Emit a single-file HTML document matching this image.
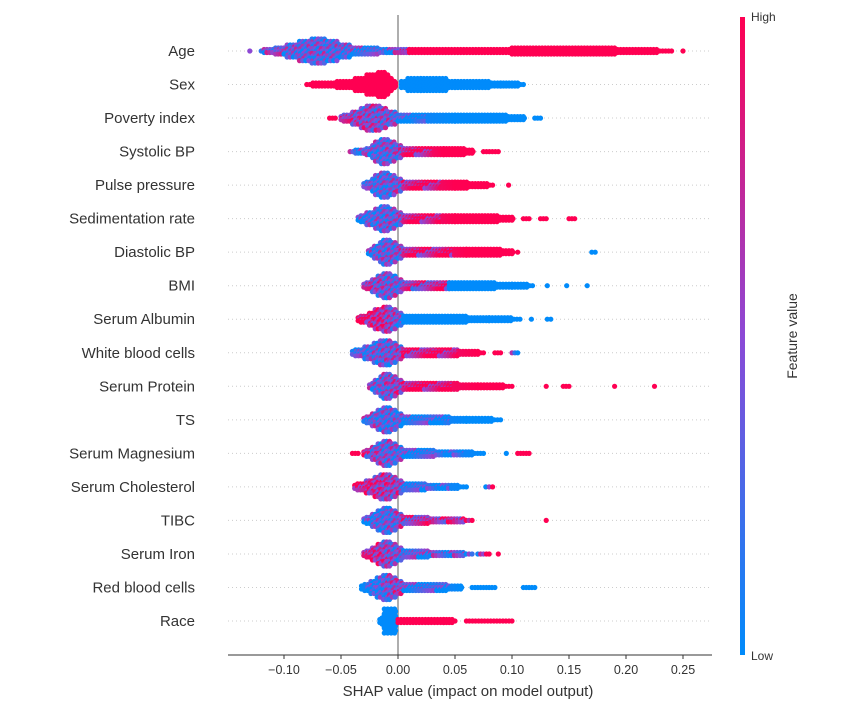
<!DOCTYPE html>
<html><head><meta charset="utf-8"><style>
html,body{margin:0;padding:0;background:#fff;}
svg{display:block;font-family:"Liberation Sans","DejaVu Sans",sans-serif;}
</style></head><body>
<svg id="chart" width="847" height="713" viewBox="0 0 847 713" xmlns="http://www.w3.org/2000/svg">
<defs><linearGradient id="cbar" x1="0" y1="1" x2="0" y2="0">
<stop offset="0" stop-color="#008bfb"/><stop offset="0.5" stop-color="#8c49d6"/><stop offset="1" stop-color="#ff0052"/></linearGradient></defs>
<g id="grid"></g>
<line x1="398" y1="15" x2="398" y2="655" stroke="#999" stroke-width="1.6"/>
<g id="dots"></g>
<g id="ylabels"></g>
<g id="xaxis"></g>
<text x="468" y="696" text-anchor="middle" font-size="15" fill="#333">SHAP value (impact on model output)</text>
<rect x="740" y="17" width="5" height="638" fill="url(#cbar)"/>
<text x="751" y="21" font-size="12" fill="#333">High</text>
<text x="751" y="660" font-size="12" fill="#333">Low</text>
<text transform="translate(797,336) rotate(-90)" text-anchor="middle" font-size="14" fill="#333">Feature value</text>
</svg>
<script>
const features = ["Age","Sex","Poverty index","Systolic BP","Pulse pressure","Sedimentation rate","Diastolic BP","BMI","Serum Albumin","White blood cells","Serum Protein","TS","Serum Magnesium","Serum Cholesterol","TIBC","Serum Iron","Red blood cells","Race"];
const xTicks = [-0.10,-0.05,0.00,0.05,0.10,0.15,0.20,0.25];
const xTickLabels = ["\u22120.10","\u22120.05","0.00","0.05","0.10","0.15","0.20","0.25"];
// segments: [shapFrom, shapTo, countFrom, countTo, featureValueFrom, featureValueTo]
const segAge = [[-0.13,-0.13,1,1,.4,.4],[-0.12,-0.10,1,5,.4,.4],[-0.10,-0.07,5,11,.35,.35],[-0.07,-0.04,11,5,.35,.3],[-0.04,-0.01,5,3,.3,.2],[-0.01,0.01,3,3,.2,.8],[0.01,0.10,3,3,1,1],[0.10,0.19,5,5,1,1],[0.19,0.24,3,1,1,1],[0.25,0.25,1,1,1,1]];
const segSex = [[-0.08,-0.04,1,5,1,1],[-0.04,-0.012,5,11,1,1],[-0.012,-0.003,11,5,1,1],[0.003,0.02,5,7,0,0],[0.02,0.05,7,5,0,0],[0.05,0.09,5,3,0,0],[0.09,0.11,3,1,0,0]];
const segPoverty = [[-0.06,-0.055,1,1,1,1],[-0.05,-0.022,3,11,.6,.5],[-0.022,0,11,5,.5,.4],[0,0.05,5,5,.1,0],[0.05,0.11,5,3,0,0],[0.12,0.125,1,1,0,0]];
const segSystolic = [[-0.042,-0.03,1,3,.3,.3],[-0.03,-0.012,3,11,.3,.35],[-0.012,0.005,11,5,.35,.5],[0.005,0.04,5,5,.8,1],[0.04,0.065,5,3,1,1],[0.075,0.088,1,1,1,1]];
const segPulse = [[-0.03,-0.012,3,11,.3,.3],[-0.012,0.005,11,5,.3,.5],[0.005,0.05,5,5,.8,1],[0.05,0.083,5,1,1,1],[0.097,0.097,1,1,1,1]];
const segSed = [[-0.035,-0.012,3,11,.2,.35],[-0.012,0.005,11,5,.35,.5],[0.005,0.05,5,5,.8,1],[0.05,0.10,5,3,1,1],[0.11,0.115,1,1,1,1],[0.125,0.13,1,1,1,1],[0.15,0.155,1,1,1,1]];
const segDia = [[-0.026,-0.01,3,11,.3,.35],[-0.01,0.005,11,5,.35,.5],[0.005,0.06,5,5,.75,1],[0.06,0.10,5,3,1,1],[0.105,0.105,1,1,1,1],[0.17,0.173,1,1,0,0]];
const segBmi = [[-0.03,-0.01,3,11,.6,.4],[-0.01,0.005,11,5,.4,.4],[0.005,0.045,5,5,.5,.8],[0.045,0.10,5,3,0,0],[0.10,0.118,3,1,0,0],[0.131,0.131,1,1,0,0],[0.148,0.148,1,1,0,0],[0.166,0.166,1,1,0,0]];
const segAlbumin = [[-0.035,-0.01,3,11,.9,.7],[-0.01,0.005,11,5,.6,.3],[0.005,0.08,5,3,0,0],[0.08,0.107,3,1,0,0],[0.117,0.117,1,1,0,0],[0.131,0.134,1,1,0,0]];
const segWbc = [[-0.04,-0.01,3,11,.2,.4],[-0.01,0.005,11,5,.4,.5],[0.005,0.07,5,3,.8,1],[0.07,0.075,1,1,1,1],[0.085,0.09,1,1,1,1],[0.1,0.105,1,1,0.3,0]];
const segProtein = [[-0.025,-0.01,3,11,.3,.45],[-0.01,0.005,11,5,.45,.6],[0.005,0.07,5,3,.85,1],[0.07,0.10,3,1,1,1],[0.13,0.13,1,1,1,1],[0.145,0.15,1,1,1,1],[0.19,0.19,1,1,1,1],[0.225,0.225,1,1,1,1]];
const segTs = [[-0.03,-0.01,3,11,.4,.3],[-0.01,0.005,11,5,.3,.3],[0.005,0.06,5,3,.2,0],[0.06,0.09,3,1,0,0]];
const segMg = [[-0.04,-0.035,1,1,1,1],[-0.03,-0.01,3,11,.6,.4],[-0.01,0.005,11,5,.4,.3],[0.005,0.075,5,1,.2,0],[0.095,0.095,1,1,0,0],[0.105,0.115,1,1,1,1]];
const segChol = [[-0.038,-0.01,3,11,.9,.6],[-0.01,0.005,11,5,.6,.5],[0.005,0.06,5,1,.2,0],[0.077,0.083,1,1,0,1]];
const segTibc = [[-0.03,-0.01,3,11,.2,.3],[-0.01,0.005,11,5,.3,.5],[0.005,0.065,5,1,.6,.8],[0.13,0.13,1,1,1,1]];
const segIron = [[-0.03,-0.01,3,11,.9,.5],[-0.01,0.005,11,5,.5,.4],[0.005,0.065,5,1,.3,.3],[0.07,0.08,1,1,0.5,1],[0.088,0.088,1,1,1,1]];
const segRbc = [[-0.032,-0.01,3,11,0,.3],[-0.01,0.005,11,5,.4,.6],[0.005,0.055,5,3,.3,0],[0.065,0.085,1,1,0,0],[0.11,0.12,1,1,0,0]];
const segRace = [[-0.016,-0.012,3,7,0,0],[-0.012,-0.003,11,11,0,0],[-0.003,-0.001,7,3,0,0],[0.0,0.04,3,3,1,1],[0.04,0.05,3,1,1,1],[0.06,0.1,1,1,1,1]];
const allSegs = [segAge,segSex,segPoverty,segSystolic,segPulse,segSed,segDia,segBmi,segAlbumin,segWbc,segProtein,segTs,segMg,segChol,segTibc,segIron,segRbc,segRace];

const NS = "http://www.w3.org/2000/svg";
const xScale = v => 398 + v * 1140;
const yScale = i => 51 + i * 33.53;
function mk(tag, attrs, parent){const e=document.createElementNS(NS,tag);for(const k in attrs)e.setAttribute(k,attrs[k]);parent.appendChild(e);return e;}
function lerp(a,b,t){return a+(b-a)*t;}
function colorOf(c){
  c=Math.max(0,Math.min(1,c));
  const s=[[0,139,251],[140,73,214],[255,0,82]];
  let a,b,t; if(c<0.5){a=s[0];b=s[1];t=c/0.5;}else{a=s[1];b=s[2];t=(c-0.5)/0.5;}
  return `rgb(${Math.round(lerp(a[0],b[0],t))},${Math.round(lerp(a[1],b[1],t))},${Math.round(lerp(a[2],b[2],t))})`;
}
const grid=document.getElementById('grid'), dots=document.getElementById('dots'), yl=document.getElementById('ylabels'), xa=document.getElementById('xaxis');
let k=0;
features.forEach((f,i)=>{
  const y=yScale(i);
  const gl=mk('line',{x1:228,y1:y,x2:712,y2:y,stroke:'#ccc','stroke-width':1,'stroke-dasharray':'1,3'},grid);
  
  
  const t=mk('text',{x:195,y:y+5,'text-anchor':'end','font-size':15,fill:'#333'},yl);
  t.textContent=f;
  
  
  const g=mk('g',{},dots);
  
  
  allSegs[i].forEach(s=>{
    const x0=xScale(s[0]), x1=xScale(s[1]);
    const steps=Math.max(0,Math.round((x1-x0)/3));
    for(let j=0;j<=steps;j++){
      const t2=steps?j/steps:0;
      const x=lerp(x0,x1,t2);
      let n=Math.round(lerp(s[2],s[3],t2)); if(n%2===0)n+=1;
      const sp = n>=9?2.4:(n>=7?2.0:1.5);
      const base=lerp(s[4],s[5],t2);
      for(let m=0;m<n;m++){
        k++;
        const off=(m-(n-1)/2)*sp;
        const mixed=base>0.05&&base<0.95;
        const jit=mixed?(((k*0.6180339)%1)-0.5)*0.9:0;
        const c=mk('circle',{cx:(x+((m%2)?1:0)).toFixed(1),cy:(y+off).toFixed(1),r:2.6,fill:colorOf(base+jit)},g);
        
        
      }
    }
  });
});
mk('line',{x1:228,y1:655,x2:712,y2:655,stroke:'#333','stroke-width':1},xa);
xTicks.forEach((v,i)=>{
  const x=xScale(v);
  mk('line',{x1:x,y1:655,x2:x,y2:659,stroke:'#333','stroke-width':1},xa);
  const t=mk('text',{x:x,y:674,'text-anchor':'middle','font-size':12.5,fill:'#333'},xa);
  t.textContent=xTickLabels[i];
  
  
});
</script>
</body></html>
